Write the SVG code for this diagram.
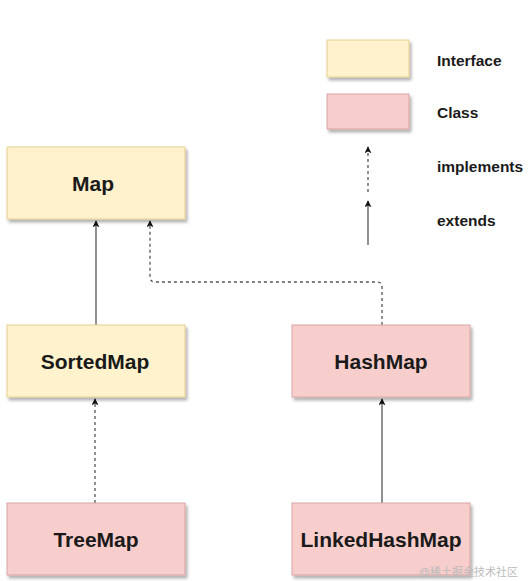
<svg xmlns="http://www.w3.org/2000/svg" width="530" height="581" viewBox="0 0 530 581">
<defs>
<filter id="sh" x="-10%" y="-10%" width="130%" height="130%">
<feDropShadow dx="2" dy="3" stdDeviation="1.5" flood-color="#000" flood-opacity="0.3"/>
</filter>
<marker id="ah" viewBox="0 0 10 10" refX="9" refY="5" markerWidth="7" markerHeight="7" orient="auto-start-reverse" markerUnits="userSpaceOnUse">
<path d="M0,0 L10,5 L0,10 L2.5,5 z" fill="#111"/>
</marker>
</defs>
<style>
.iface{fill:#fff2cc;stroke:#e3cf8f;stroke-width:1}
.cls{fill:#f8cecc;stroke:#d8a3a3;stroke-width:1}
.lbl{font-family:"Liberation Sans",Arial,sans-serif;font-weight:bold;font-size:21px;fill:#1a1a1a;text-anchor:middle}
.leg{font-family:"Liberation Sans",Arial,sans-serif;font-weight:bold;font-size:15.5px;fill:#1a1a1a}
.ext{fill:none;stroke:#555;stroke-width:1.3;marker-end:url(#ah)}
.imp{fill:none;stroke:#555;stroke-width:1.3;stroke-dasharray:3,3;marker-end:url(#ah)}
.wm{font-family:"Liberation Sans","Noto Sans CJK SC",sans-serif;font-size:11px;fill:#bbb;text-anchor:end}
</style>
<rect width="530" height="581" fill="#fff"/>

<g id="connectors">
<line class="ext" x1="96" y1="325" x2="96" y2="221"/>
<path class="imp" d="M382,325 V287 Q382,282 377,282 H155 Q150,282 150,277 V221"/>
<line class="imp" x1="95" y1="503" x2="95" y2="399"/>
<line class="ext" x1="382" y1="503" x2="382" y2="399"/>
</g>

<g id="map"><rect class="iface" x="7" y="147" width="178" height="72" filter="url(#sh)"/><text class="lbl" x="93" y="191">Map</text></g>
<g id="sortedmap"><rect class="iface" x="7" y="325" width="178" height="72" filter="url(#sh)"/><text class="lbl" x="95" y="369">SortedMap</text></g>
<g id="hashmap"><rect class="cls" x="292" y="325" width="178" height="72" filter="url(#sh)"/><text class="lbl" x="381" y="369">HashMap</text></g>
<g id="treemap"><rect class="cls" x="7" y="503" width="178" height="72" filter="url(#sh)"/><text class="lbl" x="96" y="547">TreeMap</text></g>
<g id="linkedhashmap"><rect class="cls" x="292" y="503" width="178" height="72" filter="url(#sh)"/><text class="lbl" x="381" y="547">LinkedHashMap</text></g>

<g id="legend">
<rect class="iface" x="327" y="40" width="82" height="37" filter="url(#sh)"/>
<text class="leg" x="437" y="66">Interface</text>
<rect class="cls" x="327" y="94" width="82" height="35" filter="url(#sh)"/>
<text class="leg" x="437" y="118">Class</text>
<line class="imp" x1="368" y1="192" x2="368" y2="147"/>
<text class="leg" x="437" y="172">implements</text>
<line class="ext" x1="368" y1="245" x2="368" y2="201"/>
<text class="leg" x="437" y="226">extends</text>
</g>

<text class="wm" x="518" y="576">@稀土掘金技术社区</text>
</svg>
